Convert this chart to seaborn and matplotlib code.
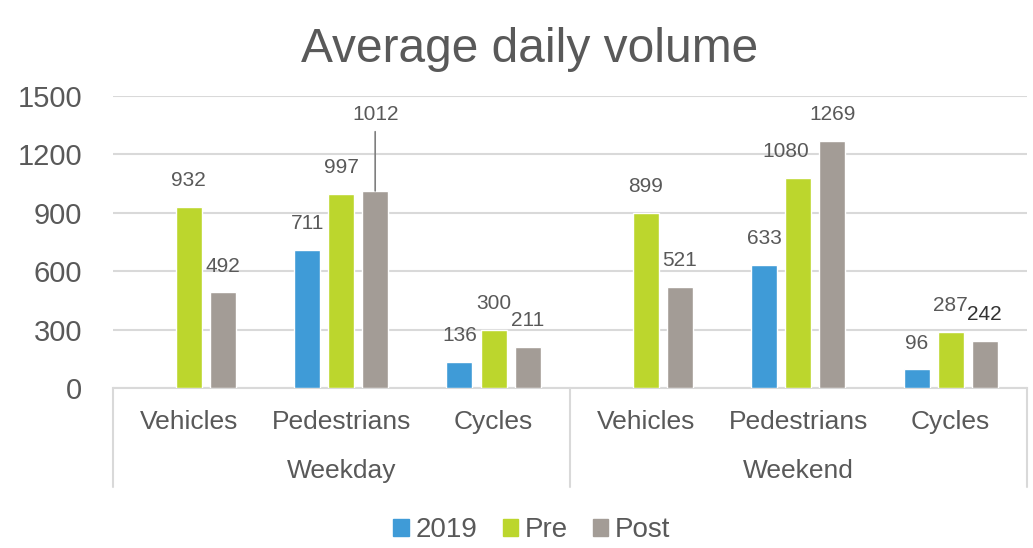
import matplotlib
matplotlib.use("Agg")
import matplotlib.pyplot as plt
import numpy as np
import pandas as pd
import seaborn as sns

# chart data
periods = ["Weekday", "Weekday", "Weekday", "Weekend", "Weekend", "Weekend"]
modes = ["Vehicles", "Pedestrians", "Cycles", "Vehicles", "Pedestrians", "Cycles"]
v2019 = [np.nan, 711, 136, np.nan, 633, 96]
vpre = [932, 997, 300, 899, 1080, 287]
vpost = [492, 1012, 211, 521, 1269, 242]
series = ["2019", "Pre", "Post"]
yticks = [0, 300, 600, 900, 1200, 1500]

colors = ["#3F9BD7", "#BCD62D", "#A39C96"]
txt = "#595959"

sns.set_theme(style="white")
plt.rcParams["font.family"] = ["Liberation Sans", "DejaVu Sans"]

cats = [f"{p}|{m}" for p, m in zip(periods, modes)]
df = pd.DataFrame({
    "cat": cats * 3,
    "series": np.repeat(series, len(cats)),
    "value": v2019 + vpre + vpost,
})

fig, ax = plt.subplots(figsize=(10.33, 5.48), dpi=100)
fig.subplots_adjust(left=0.109, right=0.994, top=0.825, bottom=0.292)

sns.barplot(data=df, x="cat", y="value", hue="series", hue_order=series,
            order=cats, palette=colors, width=0.67, gap=0.236,
            errorbar=None, saturation=1, ax=ax, zorder=3)

ax.set_ylim(0, 1500)
ax.set_yticks(yticks)
ax.set_yticklabels([str(t) for t in yticks], fontsize=21, color=txt)
ax.set_xlim(-0.5, len(cats) - 0.5)
ax.set_xticks(range(len(cats)))
ax.set_xticklabels(modes, fontsize=19, color=txt)
ax.tick_params(axis="x", length=0, pad=16)
ax.tick_params(axis="y", length=0, pad=22)
ax.set_xlabel("")
ax.set_ylabel("")
ax.grid(axis="y", color="#D9D9D9", linewidth=1.5, zorder=0)
for s in ["left", "right", "top"]:
    ax.spines[s].set_visible(False)
ax.spines["bottom"].set_color("#D9D9D9")
ax.spines["bottom"].set_linewidth(1.5)

# group labels and separators
trans = ax.get_xaxis_transform()
for xs in [-0.5, 2.5, 5.5]:
    ax.plot([xs, xs], [0, -0.34], transform=trans, color="#D9D9D9",
            linewidth=1.5, clip_on=False)
for i, g in enumerate(["Weekday", "Weekend"]):
    ax.text(1 + 3 * i, -0.285, g, transform=trans, ha="center", va="center",
            fontsize=19, color=txt)

# value labels
nudge = {"1080": (-9, 0)}
for cont, name in zip(ax.containers, series):
    for bar in cont:
        h = bar.get_height()
        if np.isnan(h) or h == 0:
            continue
        lab = str(int(round(h)))
        xc = bar.get_x() + bar.get_width() / 2
        dx, dy = nudge.get(lab, (0, 0))
        col = "#333333" if lab == "242" else txt
        if lab == "1012":
            ax.annotate(lab, (xc, h), xytext=(0, 48), textcoords="offset points",
                        ha="center", va="bottom", fontsize=15, color=txt,
                        arrowprops=dict(arrowstyle="-", color="#7F7F7F", lw=1.2,
                                        shrinkA=3, shrinkB=0))
        else:
            ax.annotate(lab, (xc, h), xytext=(dx, 12 + dy), textcoords="offset points",
                        ha="center", va="bottom", fontsize=15, color=col)

ax.legend_.remove()
handles = [plt.Rectangle((0, 0), 1, 1, color=c) for c in colors]
fig.legend(handles, series, loc="center", bbox_to_anchor=(0.515, 0.032), ncol=3,
           frameon=False, fontsize=20, handlelength=0.55, handleheight=0.55,
           handletextpad=0.25, columnspacing=0.9, labelcolor=txt)

fig.suptitle("Average daily volume", x=0.513, y=0.95, fontsize=34.5, color=txt)

fig.savefig("out.png", dpi=100)
